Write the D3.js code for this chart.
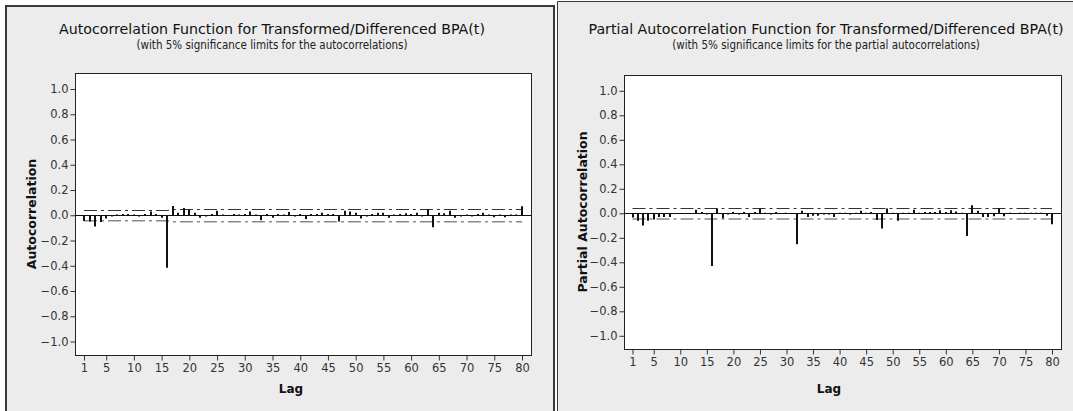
<!DOCTYPE html>
<html>
<head>
<meta charset="utf-8">
<script src="https://cdn.jsdelivr.net/npm/d3@7"></script>
<style>
  html, body { margin: 0; padding: 0; background: #ffffff; }
  svg { display: block; }
</style>
</head>
<body>
<svg id="chart" width="1073" height="411"></svg>
<script>
// Lags shown on both correlograms
const lags = d3.range(1, 81);

// Autocorrelations, lags 1..80
const acfValues = [
  -0.045, -0.050, -0.090, -0.053, -0.026, -0.010, 0.005, 0.010, 0.010, 0.005,
  -0.010, 0.010, 0.030, 0.010, -0.020, -0.415, 0.074, 0.020, 0.058, 0.045,
  0.020, -0.020, -0.010, 0.010, 0.035, 0.005, -0.005, 0.010, 0.005, 0.010,
  0.030, 0.005, -0.040, 0.010, -0.020, 0.010, 0.005, 0.025, -0.010, 0.010,
  -0.030, 0.010, 0.010, 0.020, 0.010, 0.010, -0.050, 0.035, 0.030, 0.020,
  -0.025, -0.010, 0.010, 0.020, 0.020, -0.020, 0.005, 0.010, 0.015, 0.010,
  0.020, -0.010, 0.045, -0.095, 0.020, 0.015, 0.035, -0.020, -0.010, 0.005,
  -0.010, 0.010, 0.020, 0.005, -0.015, 0.005, -0.015, 0.005, 0.005, 0.071
];

// Partial autocorrelations, lags 1..80
const pacfValues = [
  -0.035, -0.060, -0.100, -0.060, -0.050, -0.030, -0.030, -0.030, 0.000, 0.003,
  0.000, 0.003, 0.030, 0.010, -0.010, -0.430, 0.040, -0.040, -0.010, 0.010,
  -0.010, 0.010, -0.030, 0.010, 0.040, 0.005, -0.010, 0.010, -0.005, 0.005,
  0.003, -0.253, 0.020, -0.030, -0.020, -0.020, -0.010, -0.010, -0.030, 0.005,
  0.005, -0.010, 0.005, 0.020, 0.005, 0.010, -0.054, -0.125, 0.040, 0.005,
  -0.060, 0.005, 0.005, 0.030, 0.005, 0.010, 0.010, 0.010, 0.025, 0.010,
  0.025, 0.015, 0.005, -0.185, 0.065, 0.020, -0.030, -0.030, -0.025, 0.040,
  -0.025, 0.005, -0.005, 0.005, 0.005, 0.005, 0.005, 0.005, -0.020, -0.090
];

// 5% significance limits: ACF limits widen after the large lag-16 spike
const acfLimitLags   = [1, 16, 17, 80];
const acfLimitValues = [0.044, 0.044, 0.051, 0.052];
const pacfLimitLags   = [1, 80];
const pacfLimitValues = [0.046, 0.046];

// Axis ticks
const yTicks = [-1.0, -0.8, -0.6, -0.4, -0.2, 0.0, 0.2, 0.4, 0.6, 0.8, 1.0];
const xTicks = [1, 5, 10, 15, 20, 25, 30, 35, 40, 45, 50, 55, 60, 65, 70, 75, 80];

const svg = d3.select("#chart");

const panels = [
  {
    frame: { x: 5, y: 5, w: 550, h: 420 },
    box: { x0: 75, x1: 531, y0: 73, y1: 355 },
    xRange: [84, 522], yRange: [341.5, 89],
    title: "Autocorrelation Function for Transformed/Differenced BPA(t)",
    subtitle: "(with 5% significance limits for the autocorrelations)",
    titleX: 272, yLabel: "Autocorrelation", yLabelX: 32, xLabelX: 291,
    values: acfValues, limLags: acfLimitLags, limVals: acfLimitValues
  },
  {
    frame: { x: 557, y: 1, w: 530, h: 430 },
    box: { x0: 624, x1: 1061, y0: 75, y1: 349 },
    xRange: [632.5, 1052], yRange: [335.8, 90.8],
    title: "Partial Autocorrelation Function for Transformed/Differenced BPA(t)",
    subtitle: "(with 5% significance limits for the partial autocorrelations)",
    titleX: 826, yLabel: "Partial Autocorrelation", yLabelX: 583, xLabelX: 829,
    values: pacfValues, limLags: pacfLimitLags, limVals: pacfLimitValues
  }
];

panels.forEach((p, pi) => {
  const g = svg.append("g");

  // panel window
  g.append("rect")
    .attr("x", p.frame.x).attr("y", p.frame.y)
    .attr("width", p.frame.w).attr("height", p.frame.h)
    .attr("fill", "#ececec");
  // window edges: heavy on the left-hand window, thin on the right-hand one
  const ew = pi === 0 ? 2 : 1;
  g.append("path")
    .attr("d", `M${p.frame.x + ew / 2},${p.frame.y + p.frame.h} V${p.frame.y + ew / 2} H${p.frame.x + p.frame.w - ew / 2} V${p.frame.y + p.frame.h}`)
    .attr("fill", "none").attr("stroke", "#3a3a3a").attr("stroke-width", ew);

  // plotting area
  g.append("rect")
    .attr("x", p.box.x0 + 0.5).attr("y", p.box.y0 + 0.5)
    .attr("width", p.box.x1 - p.box.x0).attr("height", p.box.y1 - p.box.y0)
    .attr("fill", "#ffffff").attr("stroke", "#222").attr("stroke-width", 1);

  const x = d3.scaleLinear().domain([1, 80]).range(p.xRange);
  const y = d3.scaleLinear().domain([-1, 1]).range(p.yRange);

  // y axis
  const yAxis = d3.axisLeft(y).tickValues(yTicks).tickFormat(d3.format(".1f")).tickSize(5).tickPadding(2);
  const ya = g.append("g").attr("transform", `translate(${p.box.x0 + 0.5},0)`).call(yAxis);
  ya.select(".domain").remove();
  ya.selectAll("line").attr("stroke", "#333");
  ya.selectAll("text").attr("fill", "#333").attr("font-family", "'DejaVu Sans', sans-serif").attr("font-size", 11.5);

  // x axis
  const xAxis = d3.axisBottom(x).tickValues(xTicks).tickFormat(d3.format("d")).tickSize(5).tickPadding(3);
  const xa = g.append("g").attr("transform", `translate(0,${p.box.y1 + 0.5})`).call(xAxis);
  xa.select(".domain").remove();
  xa.selectAll("line").attr("stroke", "#333");
  xa.selectAll("text").attr("fill", "#333").attr("font-family", "'DejaVu Sans', sans-serif").attr("font-size", 11.5);

  // zero reference line
  g.append("line")
    .attr("x1", p.box.x0).attr("x2", p.box.x1)
    .attr("y1", Math.round(y(0)) + 0.5).attr("y2", Math.round(y(0)) + 0.5)
    .attr("stroke", "#111").attr("stroke-width", 1);

  // significance limits
  const limPts = p.limLags.map((l, i) => [l, p.limVals[i]]);
  const upper = d3.line().x(d => x(d[0])).y(d => Math.round(y(d[1])) + 0.5);
  const lower = d3.line().x(d => x(d[0])).y(d => y(-d[1]));
  g.append("path").datum(limPts).attr("d", upper)
    .attr("fill", "none").attr("stroke", "#333").attr("stroke-width", 1)
    .attr("stroke-dasharray", "13,4,3,4");
  g.append("path").datum(limPts).attr("d", lower)
    .attr("fill", "none").attr("stroke", "#8a8a8a").attr("stroke-width", 1.6)
    .attr("stroke-dasharray", "13,4,3,4");

  // correlation spikes
  g.append("g").selectAll("line").data(lags).join("line")
    .attr("x1", d => Math.round(x(d))).attr("x2", d => Math.round(x(d)))
    .attr("y1", y(0)).attr("y2", (d, i) => y(p.values[i]))
    .attr("stroke", "#111").attr("stroke-width", 2);

  // titles
  g.append("text").attr("x", p.titleX).attr("y", 34).attr("text-anchor", "middle")
    .attr("font-family", "'DejaVu Sans', sans-serif").attr("font-size", 14.2).attr("fill", "#111")
    .text(p.title);
  g.append("text").attr("x", p.titleX).attr("y", 48.5).attr("text-anchor", "middle")
    .attr("font-family", "'Liberation Sans Narrow', 'DejaVu Sans Condensed', sans-serif").attr("font-size", 11.5).attr("fill", "#222")
    .text(p.subtitle);

  // axis titles
  g.append("text").attr("transform", `translate(${p.yLabelX},${(p.box.y0 + p.box.y1) / 2}) rotate(-90)`)
    .attr("text-anchor", "middle").attr("dy", "0.35em")
    .attr("font-family", "'DejaVu Sans', sans-serif").attr("font-size", 12.5).attr("font-weight", "bold").attr("fill", "#111")
    .text(p.yLabel);
  g.append("text").attr("x", p.xLabelX).attr("y", 393).attr("text-anchor", "middle")
    .attr("font-family", "'DejaVu Sans', sans-serif").attr("font-size", 12).attr("font-weight", "bold").attr("fill", "#111")
    .text("Lag");
});
</script>
</body>
</html>
